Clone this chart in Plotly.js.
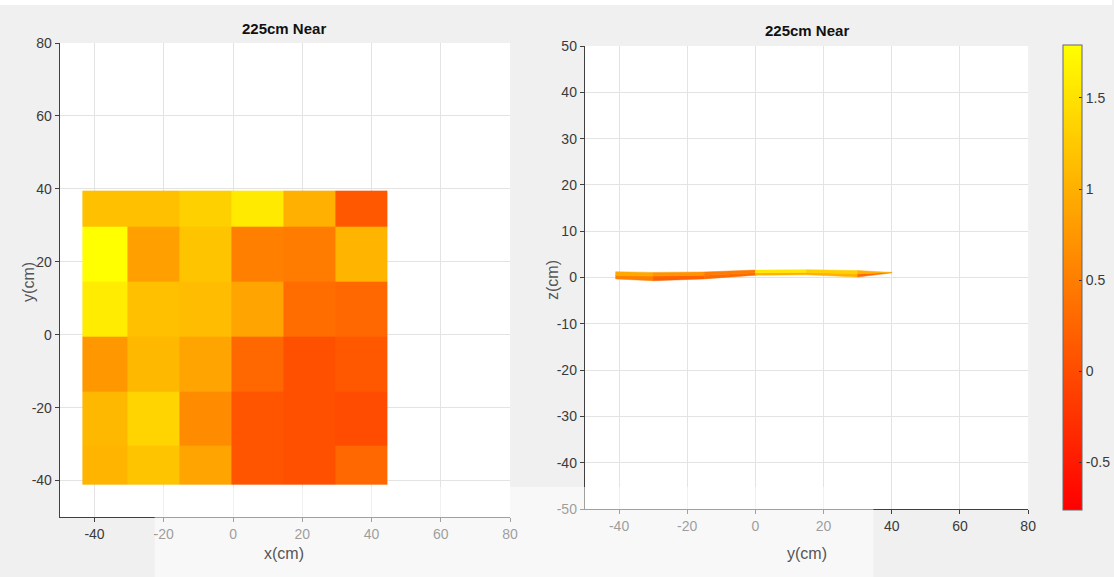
<!DOCTYPE html>
<html><head><meta charset="utf-8">
<script src="https://cdn.plot.ly/plotly-3.0.1.min.js"></script>
<style>html,body{margin:0;padding:0;background:#f0f0f0}</style>
</head><body><div id="chart" style="width:1114px;height:577px"></div>
<script>
// ---- data ----
const xEdges = [-43.5, -30.5, -15.5, -0.5, 14.5, 29.5, 44.5];
const yEdges = [-41, -30.5, -15.5, -0.5, 14.5, 29.5, 39.5];
// rows from bottom (y=-41) to top (y=40)
const zRow1 = [1.04, 1.20, 0.88, 0.08, 0.04, 0.28];
const zRow2 = [1.08, 1.36, 0.64, 0.08, 0.04, 0.00];
const zRow3 = [0.76, 1.08, 0.88, 0.28, 0.04, 0.12];
const zRow4 = [1.60, 1.16, 1.12, 0.88, 0.32, 0.28];
const zRow5 = [1.79, 0.84, 1.20, 0.52, 0.48, 1.04];
const zRow6 = [1.16, 1.16, 1.32, 1.58, 1.00, 0.12];
const colorMin = -0.76, colorMax = 1.79;
// side view (z against y)
const ribbonY = [-41, -30, -15, 0, 15, 30, 40];
const ribbonTop = [1.25, 1.1, 1.2, 1.6, 1.7, 1.5, 1.2];
const ribbonMid = [0.5, 0.3, 0.5, 1.0, 1.1, 0.8, 1.1];
const ribbonBottom = [-0.3, -0.7, -0.3, 0.5, 0.6, 0.1, 1.0];
const upperVal = [0.92, 0.72, 0.46, 1.56, 1.32, 1.0];
const lowerVal = [0.52, 0.2, 0.3, 1.0, 1.0, 0.3];
const xyTicks = [-40, -20, 0, 20, 40, 60, 80];
const zTicks = [-50, -40, -30, -20, -10, 0, 10, 20, 30, 40, 50];
const cbTicks = [-0.5, 0, 0.5, 1, 1.5];
const titleText = '225cm Near';

// ---- drawing ----
const W = 1114, H = 577;
const colorscale = [[0, 'rgb(255,0,0)'], [1, 'rgb(255,255,0)']];
function colorOf(v) {
  const t = Math.max(0, Math.min(1, (v - colorMin) / (colorMax - colorMin)));
  return 'rgb(255,' + Math.round(255 * t) + ',0)';
}
const lab = a => a.map(v => String(v).replace('\u2212', '-'));
const fontFam = 'Arial, "Liberation Sans", sans-serif';
const tickFont = {family: fontFam, size: 14, color: '#3a3a3a'};
const axTitleFont = {family: fontFam, size: 16, color: '#555'};

const traces = [{
  type: 'heatmap', x: xEdges, y: yEdges,
  z: [zRow1, zRow2, zRow3, zRow4, zRow5, zRow6],
  zmin: colorMin, zmax: colorMax, colorscale: colorscale,
  xaxis: 'x', yaxis: 'y', hoverinfo: 'skip',
  colorbar: {
    x: 1065 / W, xanchor: 'left', y: 1 - 277.5 / H, yanchor: 'middle',
    len: 465 / H, lenmode: 'fraction', thickness: 19, thicknessmode: 'pixels',
    outlinecolor: '#666', outlinewidth: 1, xpad: 0, ypad: 0,
    tickvals: cbTicks, ticktext: lab(cbTicks),
    ticks: 'inside', ticklen: 3, tickcolor: '#333',
    tickfont: tickFont
  }
}];
function band(i, top, bot, val) {
  return {
    type: 'scatter', mode: 'lines', xaxis: 'x2', yaxis: 'y2',
    x: [ribbonY[i], ribbonY[i + 1], ribbonY[i + 1], ribbonY[i], ribbonY[i]],
    y: [top[i], top[i + 1], bot[i + 1], bot[i], top[i]],
    fill: 'toself', fillcolor: colorOf(val[i]),
    line: {width: 0.5, color: colorOf(val[i])},
    showlegend: false, hoverinfo: 'skip'
  };
}
for (let i = 0; i < ribbonY.length - 1; i++) {
  traces.push(band(i, ribbonMid, ribbonBottom, lowerVal));
  traces.push(band(i, ribbonTop, ribbonMid, upperVal));
}

const axCommon = {
  showgrid: true, gridcolor: '#e3e3e3', gridwidth: 1, zeroline: false,
  showline: true, linecolor: '#404040', linewidth: 1.2,
  ticks: 'outside', ticklen: 4, tickcolor: '#404040',
  tickfont: tickFont, fixedrange: true, automargin: false
};
const layout = {
  width: W, height: H,
  margin: {l: 0, r: 0, t: 0, b: 0},
  paper_bgcolor: '#f0f0f0', plot_bgcolor: '#ffffff',
  showlegend: false,
  xaxis: Object.assign({}, axCommon, {
    domain: [60 / W, 511 / W], range: [-50, 80], tickvals: xyTicks, ticktext: lab(xyTicks), anchor: 'y'
  }),
  yaxis: Object.assign({}, axCommon, {
    domain: [1 - 517 / H, 1 - 43 / H], range: [-50, 80], tickvals: xyTicks, ticktext: lab(xyTicks), anchor: 'x'
  }),
  xaxis2: Object.assign({}, axCommon, {
    domain: [586 / W, 1030 / W], range: [-50, 80], tickvals: xyTicks, ticktext: lab(xyTicks), anchor: 'y2'
  }),
  yaxis2: Object.assign({}, axCommon, {
    domain: [1 - 509 / H, 1 - 46 / H], range: [-50, 50], tickvals: zTicks, ticktext: lab(zTicks), anchor: 'x2'
  }),
  annotations: [
    {text: '<b>' + titleText + '</b>', xref: 'paper', yref: 'paper', x: 285 / W, y: 1 - 28 / H,
     xanchor: 'center', yanchor: 'middle', showarrow: false, font: {family: fontFam, size: 15, color: '#111'}},
    {text: '<b>' + titleText + '</b>', xref: 'paper', yref: 'paper', x: 808 / W, y: 1 - 31 / H,
     xanchor: 'center', yanchor: 'middle', showarrow: false, font: {family: fontFam, size: 15, color: '#111'}},
    {text: 'x(cm)', xref: 'paper', yref: 'paper', x: 285 / W, y: 1 - 553 / H,
     xanchor: 'center', yanchor: 'middle', showarrow: false, font: axTitleFont},
    {text: 'y(cm)', xref: 'paper', yref: 'paper', x: 28 / W, y: 1 - 282 / H, textangle: -90,
     xanchor: 'center', yanchor: 'middle', showarrow: false, font: axTitleFont},
    {text: 'y(cm)', xref: 'paper', yref: 'paper', x: 808 / W, y: 1 - 553 / H,
     xanchor: 'center', yanchor: 'middle', showarrow: false, font: axTitleFont},
    {text: 'z(cm)', xref: 'paper', yref: 'paper', x: 553 / W, y: 1 - 280 / H, textangle: -90,
     xanchor: 'center', yanchor: 'middle', showarrow: false, font: axTitleFont}
  ],
  shapes: [
    {type: 'rect', xref: 'paper', yref: 'paper', x0: 0, x1: 1, y0: 1 - 5 / H, y1: 1,
     fillcolor: '#ffffff', line: {width: 0}, layer: 'below'},
    {type: 'rect', xref: 'paper', yref: 'paper', x0: 155 / W, x1: 875 / W, y0: 0, y1: 1 - 487 / H,
     fillcolor: 'rgba(255,255,255,0.5)', line: {width: 0}, layer: 'above'}
  ]
};
Plotly.newPlot('chart', traces, layout, {staticPlot: true, displayModeBar: false});
</script>
</body></html>
